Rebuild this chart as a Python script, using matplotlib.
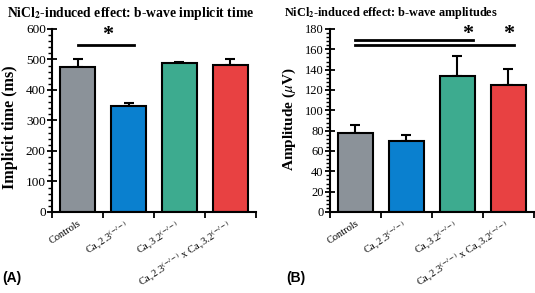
import matplotlib
matplotlib.use("Agg")
import matplotlib.pyplot as plt
from matplotlib.ticker import MultipleLocator

plt.rcParams['font.family'] = ['Liberation Serif', 'DejaVu Serif']
plt.rcParams['mathtext.fontset'] = 'stix'

categories = ["Controls",
              r"Ca$_\mathrm{v}$2.3$^{(-/-)}$",
              r"Ca$_\mathrm{v}$3.2$^{(-/-)}$",
              r"Ca$_\mathrm{v}$2.3$^{(-/-)}$ x Ca$_\mathrm{v}$3.2$^{(-/-)}$"]
colors = ["#8b9299", "#0a80cf", "#3dab8f", "#e84142"]

implicit_mean = [475, 347, 488, 482]
implicit_err = [26, 11, 4, 18]
amp_mean = [78, 70, 134, 125]
amp_err = [8, 6, 19, 16]

fig = plt.figure(figsize=(5.35, 2.93), dpi=100)
axA = fig.add_axes([0.0972, 0.2765, 0.3813, 0.6246])
axB = fig.add_axes([0.6168, 0.2765, 0.3813, 0.6246])

def style(ax, means, errs, ymax, major, minor, ylabel, tsize, lsize, xlsize, lab_xy):
    x = list(range(len(means)))
    ax.bar(x, means, width=0.67, color=colors, edgecolor='black', linewidth=1.5, zorder=2)
    ax.errorbar(x, means, yerr=[[0]*len(errs), errs], fmt='none', ecolor='black',
                elinewidth=1.5, capsize=3.5, capthick=1.5, zorder=1)
    ax.set_xlim(-0.5, 3.5)
    ax.set_ylim(0, ymax)
    ax.yaxis.set_major_locator(MultipleLocator(major))
    ax.yaxis.set_minor_locator(MultipleLocator(minor))
    ax.set_xticks([-0.5, 0.5, 1.5, 2.5, 3.5])
    ax.set_xticklabels([])
    ax.tick_params(axis='x', direction='out', length=4, width=1.3)
    ax.tick_params(axis='y', which='major', direction='inout', length=7, width=1.3,
                   labelsize=tsize, pad=1)
    ax.tick_params(axis='y', which='minor', direction='out', length=3, width=1.0)
    for s in ['top', 'right']:
        ax.spines[s].set_visible(False)
    for s in ['left', 'bottom']:
        ax.spines[s].set_linewidth(1.5)
    ax.set_ylabel(ylabel, fontsize=lsize, fontweight='bold')
    ax.yaxis.set_label_coords(*lab_xy)
    for i, lab in enumerate(categories):
        off = 0.0 if i == 0 else -0.08
        ax.text(i + off, -0.035, lab, transform=ax.get_xaxis_transform(),
                rotation=33, ha='right', va='top', rotation_mode='anchor', fontsize=xlsize)

style(axA, implicit_mean, implicit_err, 600, 100, 20, "Implicit time (ms)",
      9.5, 11.6, 7.5, (-0.167, 0.464))
style(axB, amp_mean, amp_err, 180, 20, 4, r"Amplitude ($\mu$V)",
      9, 11, 7.5, (-0.157, 0.508))

# significance
axA.plot([0.0, 1.1], [547, 547], color='black', lw=2, clip_on=False)
axA.text(0.6, 548, "*", ha='center', va='bottom', fontsize=16, fontweight='bold')
axB.plot([0.0, 2.3], [169, 169], color='black', lw=2, clip_on=False)
axB.plot([0.0, 3.1], [164, 164], color='black', lw=2, clip_on=False)
axB.text(2.2, 165, "*", ha='center', va='bottom', fontsize=16, fontweight='bold')
axB.text(3.0, 165, "*", ha='center', va='bottom', fontsize=16, fontweight='bold')

fig.text(7/535, 1 - 13/293, r"NiCl$_\mathbf{2}$-induced effect: b-wave implicit time",
         fontsize=9.8, fontweight='bold', va='center', ha='left')
fig.text(284/535, 1 - 13/293, r"NiCl$_\mathbf{2}$-induced effect: b-wave amplitudes",
         fontsize=8.8, fontweight='bold', va='center', ha='left')
fig.text(2/535, 1 - 278/293, "(A)", fontsize=10, fontweight='bold', family='Liberation Sans', va='center')
fig.text(286/535, 1 - 278/293, "(B)", fontsize=10, fontweight='bold', family='Liberation Sans', va='center')

fig.savefig("out.png", dpi=100)
